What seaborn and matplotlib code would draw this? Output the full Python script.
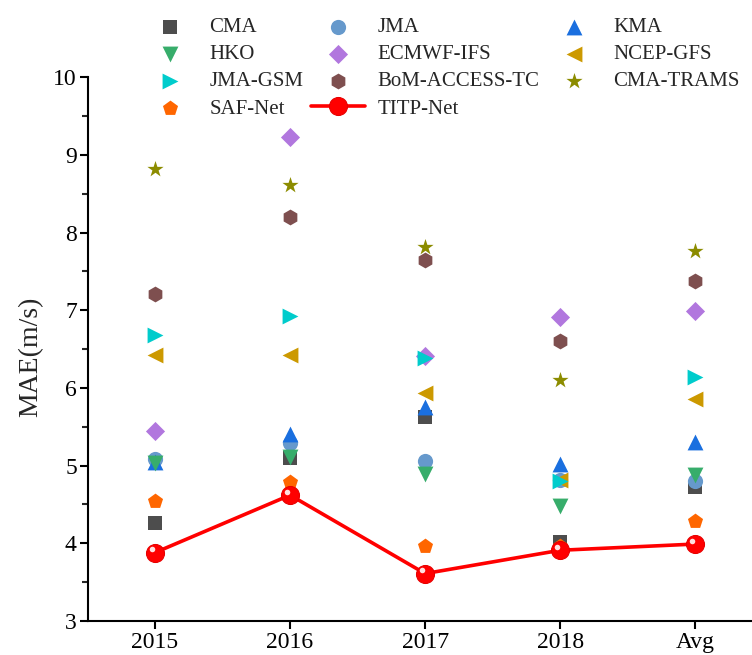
import pandas as pd
import numpy as np
import seaborn as sns
import matplotlib
matplotlib.use("Agg")
import matplotlib.pyplot as plt
from matplotlib import transforms


# =========================================
# DATA
# =========================================

years = ["2015", "2016", "2017", "2018", "Avg"]

cma = [4.26, 5.10, 5.63, 4.02, 4.73]
jma = [5.09, 5.29, 5.06, 4.82, 4.80]
kma = [5.05, 5.41, 5.75, 5.02, 5.30]
hko = [5.03, 5.11, 4.89, 4.48, 4.88]
ecmwf_ifs = [5.45, 9.23, 6.41, 6.91, 6.99]
ncep_gfs = [6.42, 6.42, 5.93, 4.81, 5.86]
jma_gsm = [6.68, 6.93, 6.38, 4.80, 6.14]
bom_access = [7.21, 8.20, 7.65, 6.60, 7.38]
cma_trams = [8.82, 8.61, 7.81, 6.10, 7.76]
saf_net = [4.54, 4.79, 3.96, 3.96, 4.29]
titp_net = [3.88, 4.62, 3.61, 3.91, 3.99]

models = ["CMA", "JMA", "KMA", "HKO", "ECMWF-IFS", "NCEP-GFS",
          "JMA-GSM", "BoM-ACCESS-TC", "CMA-TRAMS", "SAF-Net"]
model_values = [cma, jma, kma, hko, ecmwf_ifs, ncep_gfs,
                jma_gsm, bom_access, cma_trams, saf_net]
model_colors = ["#4d4d4d", "#6699cc", "#1a6fdf", "#37ad6b", "#b177de",
                "#cc9900", "#00cccc", "#7e4f4f", "#8c8c00", "#ff6600"]
model_markers = ["s", "o", "^", "v", "D", "<", ">", "h", "*", "p"]
model_sizes = [90, 120, 130, 130, 95, 130, 130, 130, 150, 130]


# =========================================
# STYLE
# =========================================

sns.set_theme(style="ticks")
plt.rcParams['font.family'] = ['Liberation Serif', 'DejaVu Serif']

fig = plt.figure(figsize=(7.52, 6.55), dpi=100)
ax = fig.add_axes([0.117, 0.052, 0.883, 0.83])

x_pos = np.arange(len(years))

# =========================================
# SCATTER FOR EACH MODEL
# =========================================

for name, vals, col, mk, sz in zip(models, model_values, model_colors,
                                   model_markers, model_sizes):
    df = pd.DataFrame({"x": x_pos, "MAE": vals})
    sns.scatterplot(data=df, x="x", y="MAE", ax=ax, color=col, marker=mk,
                    s=sz, linewidth=0, label=name, zorder=3)

# TITP-Net line
df_t = pd.DataFrame({"x": x_pos, "MAE": titp_net})
sns.lineplot(data=df_t, x="x", y="MAE", ax=ax, color="#ff0000", linewidth=2.6,
             marker="o", markersize=13, markeredgecolor="#e60000",
             markerfacecolor="#ff0000", label="TITP-Net", zorder=4)

# small highlight on the red balls
shine = transforms.offset_copy(ax.transData, fig=fig, x=-2.5, y=2.5, units="points")
ax.plot(x_pos, titp_net, linestyle="none", marker="o", markersize=4,
        color="#ffe0e0", markeredgewidth=0, transform=shine, zorder=5)

# =========================================
# AXES
# =========================================

ax.set_xlim(-0.496, 4.42)
ax.set_ylim(3, 10)
ax.set_xticks(x_pos)
ax.set_xticklabels(years)
ax.set_yticks([3, 4, 5, 6, 7, 8, 9, 10])
ax.set_yticks(np.arange(3.5, 10, 1.0), minor=True)
ax.set_xlabel("")
ax.set_ylabel("MAE(m/s)", fontsize=20)
ax.yaxis.set_label_coords(-0.068, 0.485)

sns.despine(ax=ax)
for side in ["left", "bottom"]:
    ax.spines[side].set_linewidth(1.5)
    ax.spines[side].set_color("black")

ax.tick_params(axis="both", which="major", direction="out", length=6,
               width=1.5, labelsize=17, colors="black", pad=2)
ax.tick_params(axis="y", which="minor", direction="out", length=4, width=1.5)

# =========================================
# LEGEND (row-wise order in 3 columns)
# =========================================

h, l = ax.get_legend_handles_labels()
lookup = dict(zip(l, h))
order = ["CMA", "HKO", "JMA-GSM", "SAF-Net",
         "JMA", "ECMWF-IFS", "BoM-ACCESS-TC", "TITP-Net",
         "KMA", "NCEP-GFS", "CMA-TRAMS"]
ax.get_legend().remove()
fig.legend([lookup[k] for k in order], order, ncol=3, frameon=False,
           loc="upper left", bbox_to_anchor=(0.19, 0.973),
           prop={"size": 15},
           handlelength=2.6, handletextpad=0.6, columnspacing=0.35,
           labelspacing=0.36, borderpad=0, borderaxespad=0)

fig.savefig("out.png", dpi=100)
